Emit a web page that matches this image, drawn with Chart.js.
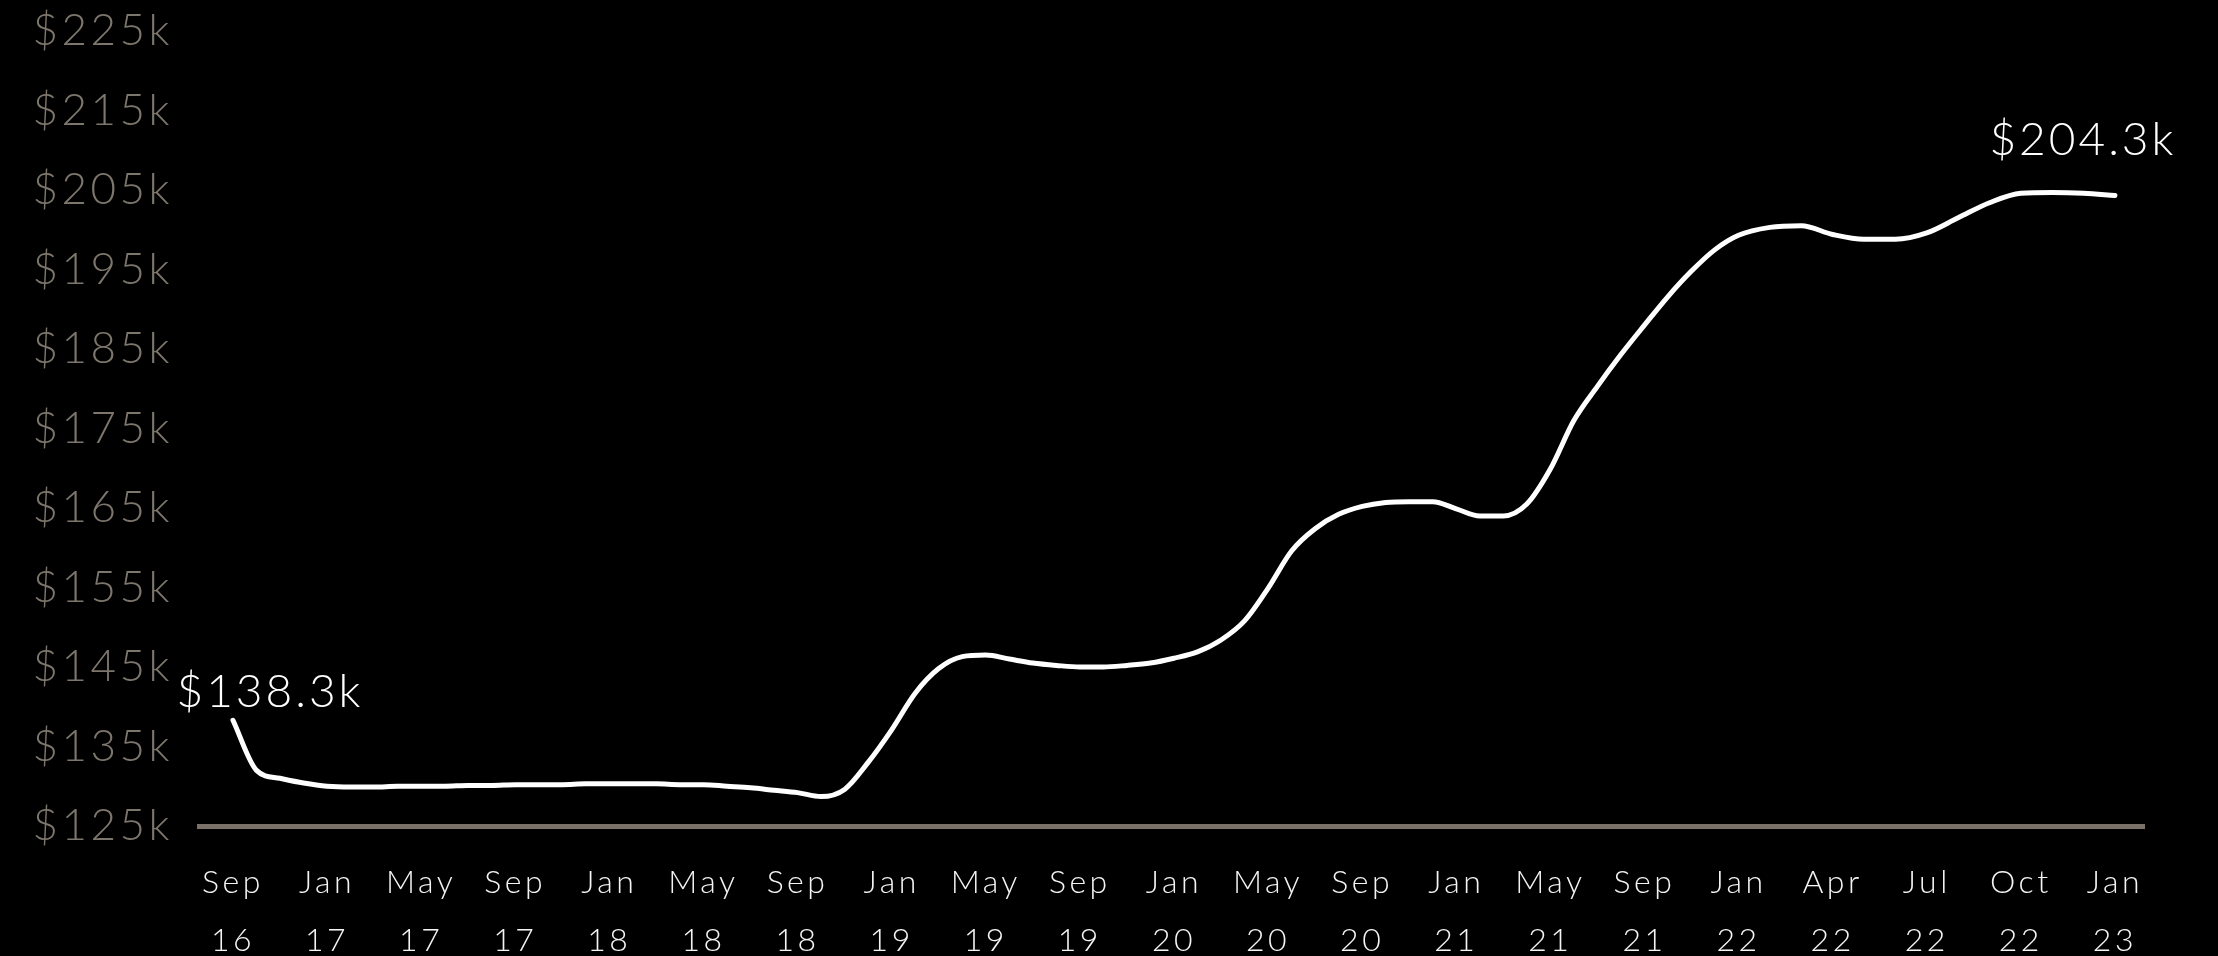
<!DOCTYPE html>
<html>
<head>
<meta charset="utf-8">
<title>Median price</title>
<script src="https://cdn.jsdelivr.net/npm/chart.js@4.4.1/dist/chart.umd.min.js"></script>
<style>
  html, body { margin: 0; padding: 0; background: #000; }
  canvas { display: block; }
</style>
</head>
<body>
<canvas id="chart" width="2218" height="956"></canvas>
<script>
// X-axis tick labels (month + two-digit year), evenly spaced along the axis
const tickLabels = [
  "Sep 16", "Jan 17", "May 17", "Sep 17", "Jan 18", "May 18", "Sep 18",
  "Jan 19", "May 19", "Sep 19", "Jan 20", "May 20", "Sep 20", "Jan 21",
  "May 21", "Sep 21", "Jan 22", "Apr 22", "Jul 22", "Oct 22", "Jan 23"
];

// Monthly observations
const months = [
  "2016-09", "2016-10", "2016-11", "2016-12",
  "2017-01", "2017-02", "2017-03", "2017-04", "2017-05", "2017-06",
  "2017-07", "2017-08", "2017-09", "2017-10", "2017-11", "2017-12",
  "2018-01", "2018-02", "2018-03", "2018-04", "2018-05", "2018-06",
  "2018-07", "2018-08", "2018-09", "2018-10", "2018-11", "2018-12",
  "2019-01", "2019-02", "2019-03", "2019-04", "2019-05", "2019-06",
  "2019-07", "2019-08", "2019-09", "2019-10", "2019-11", "2019-12",
  "2020-01", "2020-02", "2020-03", "2020-04", "2020-05", "2020-06",
  "2020-07", "2020-08", "2020-09", "2020-10", "2020-11", "2020-12",
  "2021-01", "2021-02", "2021-03", "2021-04", "2021-05", "2021-06",
  "2021-07", "2021-08", "2021-09", "2021-10", "2021-11", "2021-12",
  "2022-01", "2022-02", "2022-03", "2022-04", "2022-05", "2022-06",
  "2022-07", "2022-08", "2022-09", "2022-10", "2022-11", "2022-12",
  "2023-01"
];

// Price in thousands of dollars, one value per month
const priceK = [
  138.3, 132.0, 131.0, 130.4, 130.0, 129.9, 129.9, 130.0, 130.0, 130.0,
  130.1, 130.1, 130.2, 130.2, 130.2, 130.3, 130.3, 130.3, 130.3, 130.2,
  130.2, 130.0, 129.8, 129.5, 129.2, 128.7, 129.6, 133.0, 137.1, 141.7,
  144.8, 146.3, 146.5, 146.0, 145.5, 145.2, 145.0, 145.0, 145.2, 145.5,
  146.1, 146.9, 148.4, 150.8, 154.9, 159.6, 162.4, 164.2, 165.2, 165.7,
  165.8, 165.8, 164.9, 164.0, 164.0, 165.5, 169.9, 176.0, 180.3, 184.3,
  188.0, 191.6, 194.8, 197.5, 199.3, 200.3, 200.5, 199.4, 198.8, 198.8,
  199.6, 201.5, 203.4, 204.6, 204.7, 204.6, 204.3
];

// Value axis range and step, in thousands
const yMin = 125;
const yMax = 225;
const yStep = 10;

const MONTH_NAMES = ["Jan","Feb","Mar","Apr","May","Jun","Jul","Aug","Sep","Oct","Nov","Dec"];

function tickMonthNumber(label) {
  const [mon, yy] = label.split(" ");
  return (2000 + Number(yy)) * 12 + MONTH_NAMES.indexOf(mon);
}
function monthNumber(ym) {
  const [y, m] = ym.split("-").map(Number);
  return y * 12 + (m - 1);
}
const tickMonths = tickLabels.map(tickMonthNumber);

// Ticks are evenly spaced, so a month sits between its two neighbouring ticks
function axisPosition(ym) {
  const m = monthNumber(ym);
  for (let i = 0; i < tickMonths.length - 1; i++) {
    if (m >= tickMonths[i] && m <= tickMonths[i + 1]) {
      return i + (m - tickMonths[i]) / (tickMonths[i + 1] - tickMonths[i]);
    }
  }
  return tickMonths.length - 1;
}

const points = months.map((ym, i) => ({ x: axisPosition(ym), y: priceK[i] }));

const FONT = "Lato";
const AXIS_GREY = "#7a7269";

// Wider tracking for the light axis type
const tracking = {
  id: "tracking",
  beforeDraw(chart) { chart.ctx.letterSpacing = "3.5px"; }
};

// Value callouts on the first and last points: [point index, dx, dy]
const endLabels = {
  id: "endLabels",
  afterDatasetsDraw(chart) {
    const pts = chart.getDatasetMeta(0).data;
    const ctx = chart.ctx;
    ctx.save();
    ctx.letterSpacing = "3px";
    ctx.font = "300 46px " + FONT;
    ctx.fillStyle = "#ffffff";
    ctx.textAlign = "center";
    ctx.textBaseline = "middle";
    [[0, 37, -28], [pts.length - 1, -32, -55]].forEach(([i, dx, dy]) => {
      const p = pts[i];
      ctx.fillText("$" + priceK[i].toFixed(1) + "k", p.x + dx, p.y + dy);
    });
    ctx.restore();
  }
};

new Chart(document.getElementById("chart"), {
  type: "line",
  data: {
    datasets: [{
      data: points,
      borderColor: "#ffffff",
      borderWidth: 5,
      borderCapStyle: "round",
      borderJoinStyle: "round",
      pointRadius: 0,
      fill: false,
      cubicInterpolationMode: "monotone"
    }]
  },
  options: {
    responsive: false,
    devicePixelRatio: 1,
    animation: false,
    layout: { padding: { top: 31, right: 74, bottom: 0, left: 0 } },
    plugins: {
      legend: { display: false },
      tooltip: { enabled: false }
    },
    scales: {
      x: {
        type: "linear",
        min: -0.361,
        max: 20.309,
        afterBuildTicks: (scale) => {
          scale.ticks = tickLabels.map((_, i) => ({ value: i }));
        },
        afterFit: (scale) => { scale.height = 130; },
        grid: { display: false, drawTicks: false },
        border: { display: true, color: AXIS_GREY, width: 5 },
        ticks: {
          autoSkip: false,
          maxRotation: 0,
          padding: 28,
          color: "#f4f4f4",
          font: { family: FONT, size: 32, weight: "300", lineHeight: 1.8 },
          callback: (value, index) => tickLabels[index].split(" ")
        }
      },
      y: {
        min: yMin,
        max: yMax,
        afterFit: (scale) => {
          scale.width = 199;
          scale.paddingTop = 0;
          scale.paddingBottom = 0;
        },
        grid: { display: false, drawTicks: false },
        border: { display: false },
        ticks: {
          stepSize: yStep,
          padding: 26,
          color: "#7d766c",
          font: { family: FONT, size: 44, weight: "300" },
          callback: (v) => "$" + v + "k"
        }
      }
    }
  },
  plugins: [tracking, endLabels]
});
</script>
</body>
</html>
